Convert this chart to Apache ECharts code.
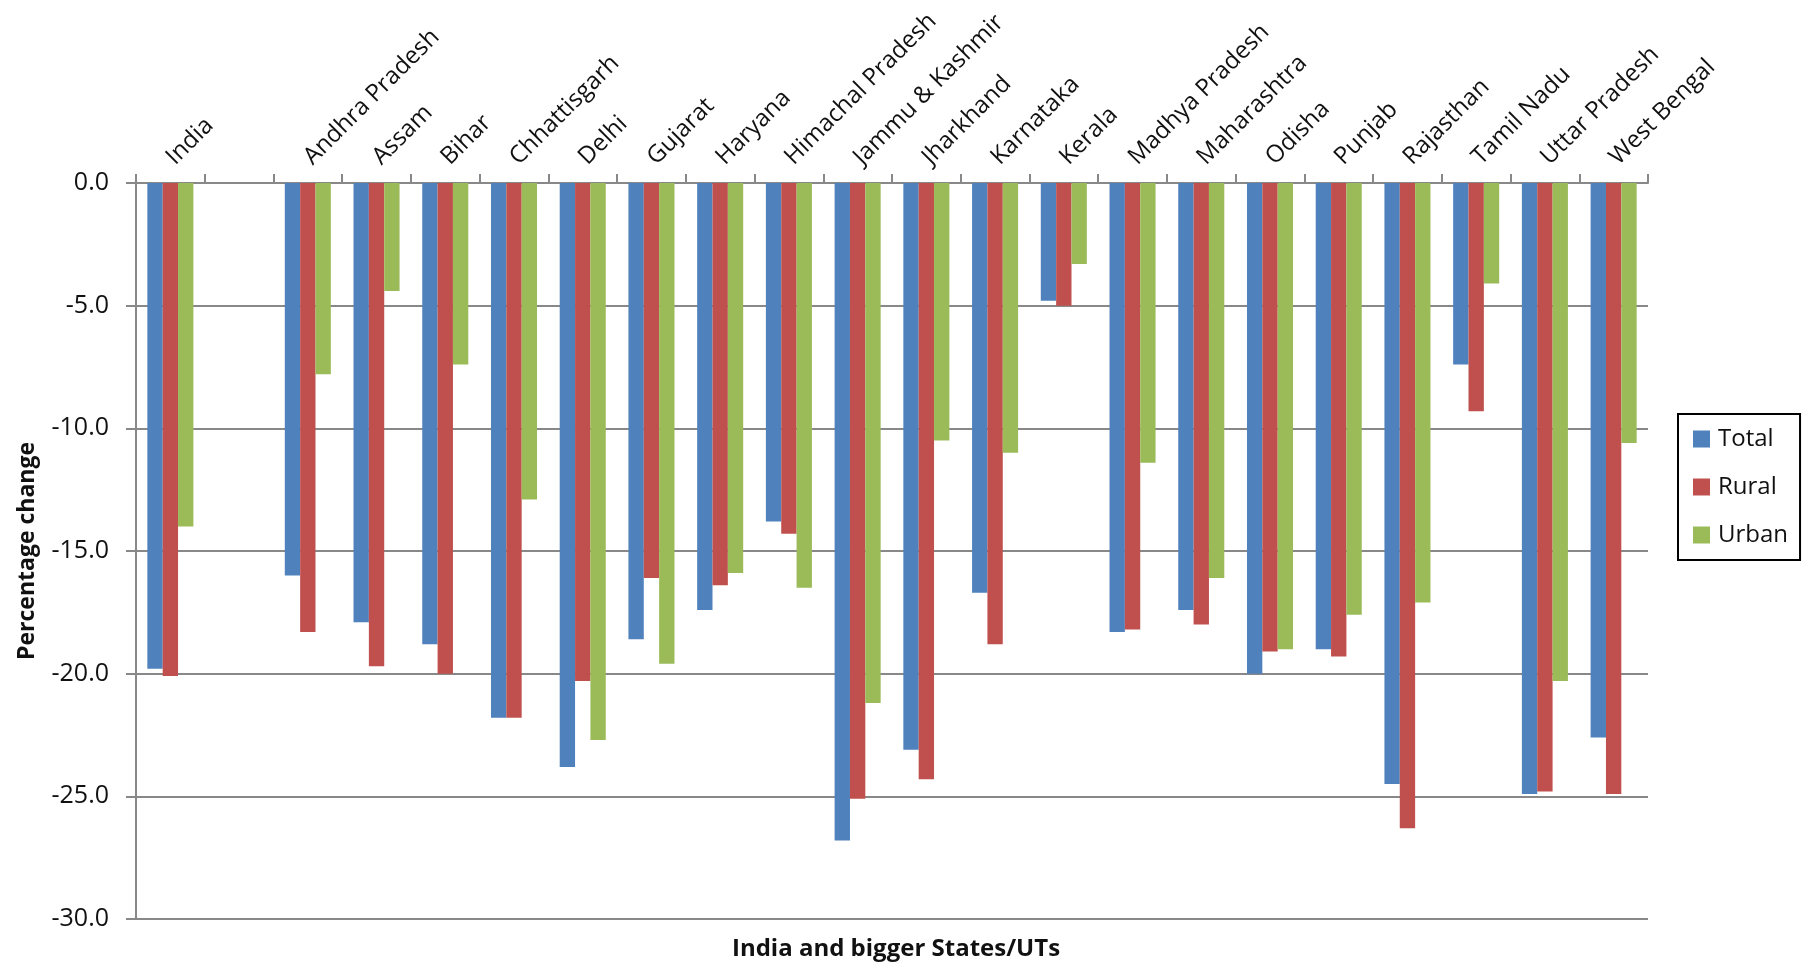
<!DOCTYPE html>
<html>
<head>
<meta charset="utf-8">
<script src="https://cdn.jsdelivr.net/npm/echarts@6/dist/echarts.min.js"></script>
<style>
html,body{margin:0;padding:0;background:#fff;}
#chart{width:1806px;height:964px;}
</style>
</head>
<body>
<div id="chart"></div>
<script>
var categories = ['India','','Andhra Pradesh','Assam','Bihar','Chhattisgarh','Delhi','Gujarat','Haryana','Himachal Pradesh','Jammu & Kashmir','Jharkhand','Karnataka','Kerala','Madhya Pradesh','Maharashtra','Odisha','Punjab','Rajasthan','Tamil Nadu','Uttar Pradesh','West Bengal'];
var totalValues = [-19.8, null, -16.0, -17.9, -18.8, -21.8, -23.8, -18.6, -17.4, -13.8, -26.8, -23.1, -16.7, -4.8, -18.3, -17.4, -20.0, -19.0, -24.5, -7.4, -24.9, -22.6];
var ruralValues = [-20.1, null, -18.3, -19.7, -20.0, -21.8, -20.3, -16.1, -16.4, -14.3, -25.1, -24.3, -18.8, -5.0, -18.2, -18.0, -19.1, -19.3, -26.3, -9.3, -24.8, -24.9];
var urbanValues = [-14.0, null, -7.8, -4.4, -7.4, -12.9, -22.7, -19.6, -15.9, -16.5, -21.2, -10.5, -11.0, -3.3, -11.4, -16.1, -19.0, -17.6, -17.1, -4.1, -20.3, -10.6];
var seriesNames = ['Total', 'Rural', 'Urban'];
var yTicks = {min: -30, max: 0, interval: 5};
var yAxisTitle = 'Percentage change';
var xAxisTitle = 'India and bigger States/UTs';

var FONT = 'Open Sans';
var colors = ['#4F81BD', '#C0504D', '#9BBB59'];
var chart = echarts.init(document.getElementById('chart'));
var data = [totalValues, ruralValues, urbanValues];
chart.setOption({
  animation: false,
  backgroundColor: '#ffffff',
  color: colors,
  grid: {left: 136, right: 158, top: 183, bottom: 45, containLabel: false},
  legend: {
    orient: 'vertical',
    left: 1678, top: 414,
    data: seriesNames,
    icon: 'rect',
    itemWidth: 17, itemHeight: 17, itemGap: 24,
    borderColor: '#000', borderWidth: 2,
    padding: [13, 12, 13, 15],
    textStyle: {fontFamily: FONT, fontSize: 24, color: '#111', padding: [0, 0, 0, 3]}
  },
  xAxis: {
    type: 'category',
    position: 'top',
    data: categories,
    axisLine: {lineStyle: {color: '#888888', width: 2}},
    axisTick: {show: true, alignWithLabel: false, length: 9, lineStyle: {color: '#888888', width: 2}},
    axisLabel: {rotate: 45, interval: 0, margin: 22, fontFamily: FONT, fontSize: 24, color: '#111'},
    splitLine: {show: false}
  },
  yAxis: {
    type: 'value',
    min: yTicks.min, max: yTicks.max, interval: yTicks.interval,
    name: yAxisTitle,
    nameLocation: 'middle',
    nameGap: 97,
    nameRotate: 90,
    nameTextStyle: {fontFamily: FONT, fontSize: 23, fontWeight: 'bold', color: '#111'},
    axisLine: {show: true, lineStyle: {color: '#888888', width: 2}},
    axisTick: {show: true, length: 10, lineStyle: {color: '#888888', width: 2}},
    axisLabel: {fontFamily: FONT, fontSize: 25, color: '#111', margin: 27, formatter: function(v){return v.toFixed(1);}},
    splitLine: {show: true, lineStyle: {color: '#888888', width: 2}}
  },
  graphic: [{
    type: 'text',
    x: 896,
    y: 949,
    style: {text: xAxisTitle, fontFamily: FONT, fontSize: 24, fontWeight: 'bold', fill: '#111', textAlign: 'center', textVerticalAlign: 'middle'}
  }],
  series: seriesNames.map(function(n, i){
    return {
      name: n,
      type: 'bar',
      data: data[i],
      barGap: '0%',
      barCategoryGap: '33%',
      itemStyle: {color: colors[i]}
    };
  })
});
</script>
</body>
</html>
